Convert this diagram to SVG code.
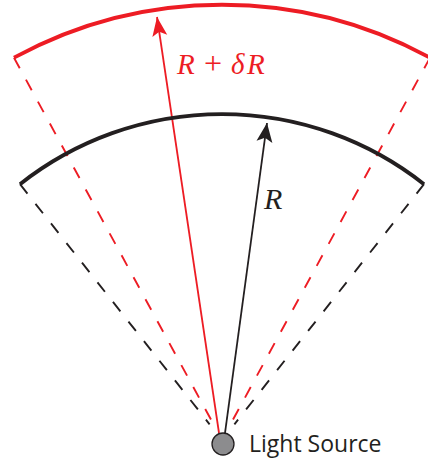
<svg xmlns="http://www.w3.org/2000/svg" width="428" height="460" viewBox="0 0 428 460">
<style>
.red{stroke:#ed1c24;fill:none}
.blk{stroke:#231f20;fill:none}
.arc{stroke-width:3.8;stroke-linecap:butt}
.dash{stroke-width:1.9;stroke-dasharray:12 13}
.ray{stroke-width:1.8}
.math{font-family:"Liberation Serif","DejaVu Serif",serif;font-style:italic}
.lbl{font-family:"Open Sans","Liberation Sans",sans-serif;font-size:23px;fill:#231f20}
</style>
<defs>
<marker id="ahR" markerUnits="userSpaceOnUse" markerWidth="24" markerHeight="20" refX="20" refY="10" orient="auto" viewBox="0 0 24 20">
<path d="M20,10 L1,2.5 L5,10 L1,17.5 Z" fill="#ed1c24"/>
</marker>
<marker id="ahB" markerUnits="userSpaceOnUse" markerWidth="24" markerHeight="20" refX="20" refY="10" orient="auto" viewBox="0 0 24 20">
<path d="M20,10 L1,2 L5,10 L1,18 Z" fill="#231f20"/>
</marker>
</defs>
<g id="connectors">
<line class="blk dash" x1="20" y1="184.2" x2="209.6" y2="424.3"/>
<line class="blk dash" x1="424" y1="184.2" x2="234.4" y2="424.3"/>
<line class="red dash" x1="14" y1="57.7" x2="212.5" y2="422.4"/>
<line class="red dash" x1="430" y1="57.7" x2="231.5" y2="422.4"/>
<line class="red ray" x1="219" y1="433" x2="157" y2="17" marker-end="url(#ahR)"/>
<line class="blk ray" x1="225" y1="433" x2="267" y2="123" marker-end="url(#ahB)"/>
</g>
<g id="outer-front">
<path class="red arc" d="M14,57.7 A435,435 0 0 1 430,57.7"/>
<text y="74" class="math" font-size="29" fill="#ed1c24"><tspan x="177">R</tspan><tspan x="204" font-style="normal" font-size="32">+</tspan><tspan x="231">δ</tspan><tspan x="247">R</tspan></text>
</g>
<g id="inner-front">
<path class="blk arc" d="M20,184.2 A326,326 0 0 1 424,184.2"/>
<text x="264" y="209" class="math" font-size="30" fill="#231f20">R</text>
</g>
<g id="light-source">
<circle cx="223" cy="444" r="11" fill="#8c8c8e" stroke="#231f20" stroke-width="1.3"/>
<text x="249" y="452" class="lbl">Light Source</text>
</g>
</svg>
